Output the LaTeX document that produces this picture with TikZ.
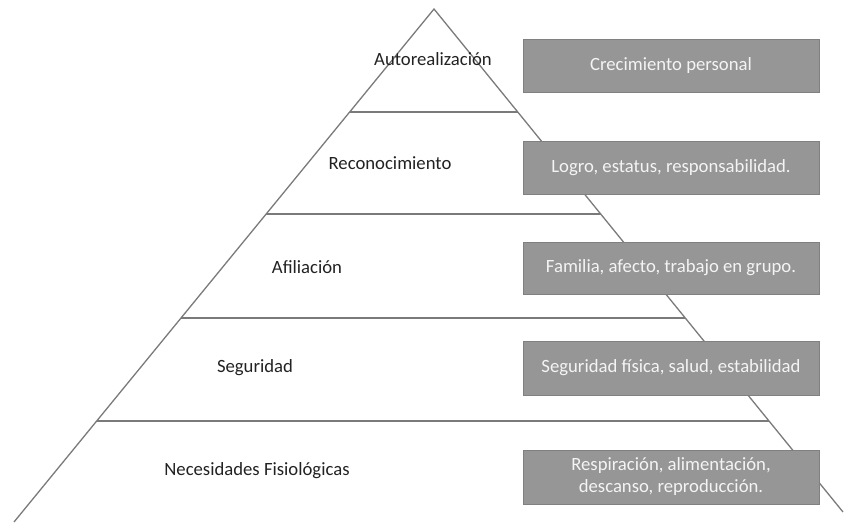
\documentclass[tikz,border=0pt]{standalone}
\usepackage{fontspec}
\setmainfont{Carlito}
\definecolor{pyrline}{HTML}{7A7A7A}
\definecolor{boxfill}{HTML}{969696}
\definecolor{boxedge}{HTML}{808080}
\definecolor{boxtext}{HTML}{F4F4F4}
\definecolor{labtext}{HTML}{222222}
\tikzset{
  pyr/.style={draw=pyrline, line width=1.3pt},
  infobox/.style={draw=boxedge, line width=0.9pt, fill=boxfill, text=boxtext,
    minimum width=296pt, inner sep=0pt, align=center,
    font=\fontsize{18.7}{22}\selectfont},
  levellab/.style={text=labtext, inner sep=0pt, font=\fontsize{18.7}{22}\selectfont}
}
\begin{document}
\begin{tikzpicture}[x=1pt,y=-1pt]
\useasboundingbox (0,0) rectangle (845,523);
% pyramid
\coordinate (apex) at (434,9);
\coordinate (bl) at (14,522);
\coordinate (br) at (843,512);
\coordinate (l1) at (349.7,112); \coordinate (r1) at (517.7,112);
\coordinate (l2) at (266.2,214); \coordinate (r2) at (600.7,214);
\coordinate (l3) at (181,318);   \coordinate (r3) at (685.2,318);
\coordinate (l4) at (96.7,421);  \coordinate (r4) at (769,421);
\draw[pyr] (bl) -- (apex) -- (br);
\draw[pyr] (l1) -- (r1);
\draw[pyr] (l2) -- (r2);
\draw[pyr] (l3) -- (r3);
\draw[pyr] (l4) -- (r4);
% boxes
\node[infobox, minimum height=53pt] (b1) at (671,65.5) {Crecimiento personal};
\node[infobox, minimum height=53pt] (b2) at (671,167.5) {Logro, estatus, responsabilidad.};
\node[infobox, minimum height=52pt] (b3) at (671,268) {Familia, afecto, trabajo en grupo.};
\node[infobox, minimum height=54pt] (b4) at (671,368) {Seguridad física, salud, estabilidad};
\node[infobox, minimum height=54pt] (b5) at (671,477) {Respiración, alimentación,\\descanso, reproducción.};
% level labels
\node[levellab] (t1) at (433,59) {Autorealización};
\node[levellab] (t2) at (390,163) {Reconocimiento};
\node[levellab] (t3) at (307,267) {Afiliación};
\node[levellab] (t4) at (255,368) {Seguridad};
\node[levellab] (t5) at (257,471) {Necesidades Fisiológicas};
\end{tikzpicture}
\end{document}
